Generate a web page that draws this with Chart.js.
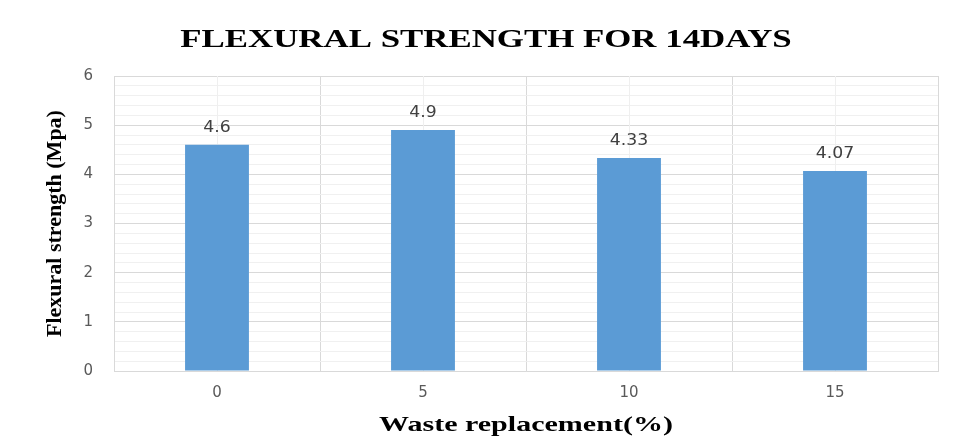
<!DOCTYPE html>
<html>
<head>
<meta charset="utf-8">
<script src="https://cdn.jsdelivr.net/npm/chart.js@4"></script>
<style>
html,body{margin:0;padding:0;background:#fff;}
#wrap{width:954px;height:443px;position:relative;}
</style>
</head>
<body>
<div id="wrap"><canvas id="c" width="954" height="443"></canvas></div>
<script>
const categories = ['0', '5', '10', '15'];
const strengthValues = [4.6, 4.9, 4.33, 4.07];
const valueLabels = ['4.6', '4.9', '4.33', '4.07'];
const yTickLabels = ['0', '1', '2', '3', '4', '5', '6'];
const chartTitle = 'FLEXURAL STRENGTH FOR 14DAYS';
const xAxisTitle = 'Waste replacement(%)';
const yAxisTitle = 'Flexural strength (Mpa)';

const textPlugin = {
  id: 'texts',
  beforeDatasetsDraw(chart) {
    const ctx = chart.ctx, xs = chart.scales.x, a = chart.chartArea;
    ctx.save();
    ctx.strokeStyle = '#efefef';
    ctx.lineWidth = 1;
    categories.forEach((c, i) => {
      const x = Math.round(xs.getPixelForValue(i)) + 0.5;
      ctx.beginPath(); ctx.moveTo(x, a.top); ctx.lineTo(x, a.bottom); ctx.stroke();
    });
    ctx.restore();
  },
  afterDraw(chart) {
    const ctx = chart.ctx, a = chart.chartArea;
    const meta = chart.getDatasetMeta(0);
    ctx.save();
    // data labels
    ctx.fillStyle = '#404040';
    ctx.font = '15px "DejaVu Sans"';
    ctx.textAlign = 'center';
    ctx.textBaseline = 'bottom';
    meta.data.forEach((bar, i) => {
      ctx.save();
      ctx.translate(bar.x, bar.y - 9);
      ctx.scale(1.15, 1);
      ctx.fillText(valueLabels[i], 0, 0);
      ctx.restore();
    });
    // title
    ctx.fillStyle = '#000';
    ctx.textBaseline = 'alphabetic';
    ctx.font = 'bold 26px "Liberation Serif"';
    ctx.save();
    ctx.translate(486, 47);
    ctx.scale(1.34, 1);
    ctx.fillText(chartTitle, 0, 0);
    ctx.restore();
    // x axis title
    ctx.font = 'bold 21px "Liberation Serif"';
    ctx.save();
    ctx.translate((a.left + a.right) / 2, 431);
    ctx.scale(1.43, 1);
    ctx.fillText(xAxisTitle, 0, 0);
    ctx.restore();
    // y axis title
    ctx.font = 'bold 22px "Liberation Serif"';
    ctx.save();
    ctx.translate(61, (a.top + a.bottom) / 2);
    ctx.rotate(-Math.PI / 2);
    ctx.fillText(yAxisTitle, 0, 0);
    ctx.restore();
    ctx.restore();
  }
};

new Chart(document.getElementById('c'), {
  type: 'bar',
  data: {
    labels: categories,
    datasets: [{
      data: strengthValues,
      backgroundColor: '#5b9bd5',
      borderWidth: 0,
      categoryPercentage: 1,
      barPercentage: 0.31
    }]
  },
  options: {
    responsive: false,
    animation: false,
    events: [],
    layout: { padding: { top: 76, right: 16, left: 0, bottom: 0 } },
    plugins: { legend: { display: false }, tooltip: { enabled: false }, title: { display: false } },
    scales: {
      x: {
        grid: { color: '#d9d9d9', offset: true, drawTicks: false },
        border: { color: '#d9d9d9' },
        ticks: { color: '#595959', font: { family: 'DejaVu Sans', size: 15 }, padding: 13 },
        afterFit(s) { s.height = 72; }
      },
      y: {
        min: 0, max: 6,
        grid: {
          drawTicks: false,
          color(ctx) {
            const v = ctx.tick ? ctx.tick.value : 0;
            return Math.abs(v - Math.round(v)) < 1e-6 ? '#d9d9d9' : '#f0f0f0';
          }
        },
        border: { color: '#d9d9d9' },
        ticks: {
          stepSize: 0.2,
          autoSkip: false,
          color: '#595959',
          font: { family: 'DejaVu Sans', size: 15 },
          padding: 21,
          callback(v) {
            const r = Math.round(v);
            return Math.abs(v - r) < 1e-6 ? yTickLabels[r] : '';
          }
        },
        afterFit(s) { s.width = 114; }
      }
    }
  },
  plugins: [textPlugin]
});
</script>
</body>
</html>
